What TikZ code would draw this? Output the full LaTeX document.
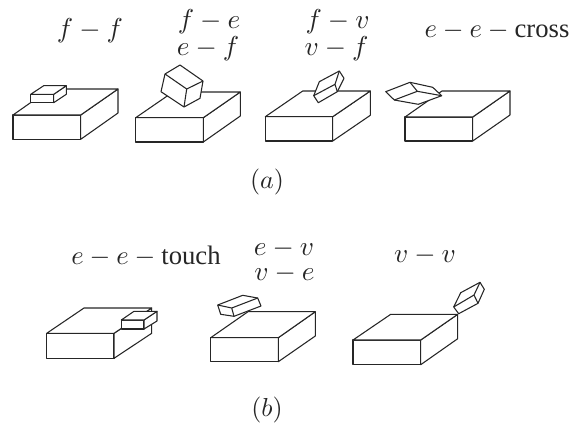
\documentclass[tikz,border=0pt]{standalone}
\usepackage{fontspec}
\newfontfamily\tmsfont{Liberation Serif}
\tikzset{
  edge/.style={draw=black!85,line width=0.8pt,line join=round,fill=white},
  seam/.style={draw=black!85,line width=0.8pt,line join=round},
  lab/.style={inner sep=0pt,anchor=base,scale=2.05,text=black!85},
  wordlab/.style={inner sep=0pt,anchor=base,scale=2.0,text=black!85},
  capt/.style={inner sep=0pt,anchor=base,scale=1.95,text=black!85}
}
% base slab: front-left x, top y, front-right x, bottom y, back-right x, back-top y, back-low y, back-left x
\newcommand{\slab}[8]{
  \draw[edge] (#1,#2) rectangle (#3,#4);
  \draw[edge] (#3,#2) -- (#5,#6) -- (#5,#7) -- (#3,#4) -- cycle;
  \draw[edge] (#1,#2) -- (#8,#6) -- (#5,#6) -- (#3,#2) -- cycle;
}
\begin{document}
\begin{tikzpicture}[x=0.75pt,y=-0.75pt]
\useasboundingbox (0,0) rectangle (584,426);
% labels
\node[lab] (l1) at (90,37) {$f-f$};
\node[lab] (l2) at (209,28) {$f-e$};
\node[lab] (l3) at (208,55) {$e-f$};
\node[lab] (l4) at (337.5,28) {$f-v$};
\node[lab] (l5) at (336.5,55) {$v-f$};
\node[wordlab] (l6) at (497,37) {$e-e-{}$\tmsfont cross};
\node[capt] (l7) at (267,188) {$(a)$};
\node[wordlab] (l8) at (146,264) {$e-e-{}$\tmsfont touch};
\node[lab] (l9) at (284,255) {$e-v$};
\node[lab] (l10) at (284.5,280) {$v-e$};
\node[lab] (l11) at (425,262) {$v-v$};
\node[capt] (l12) at (267,416) {$(b)$};
% f-f
\slab{13}{115}{80.7}{139.3}{118}{89}{113}{50}
\draw[edge] (30.7,94.3) rectangle (53.7,102.7);
\draw[edge] (53.7,94.3) -- (66.3,85.7) -- (66.3,94.3) -- (53.7,102.7) -- cycle;
\draw[edge] (30.7,94.3) -- (43.7,85.7) -- (66.3,85.7) -- (53.7,94.3) -- cycle;
% f-e
\slab{135.7}{117.7}{203.3}{142}{240.3}{92}{116}{173}
\draw[edge] (180,65) -- (203,81) -- (200,98.3) -- (184,107) -- (161,91.7) -- (165,74) -- cycle;
\draw[seam] (165,74) -- (186.7,89) -- (203,81) (186.7,89) -- (184,107);
% f-v
\slab{265.3}{116.7}{332.7}{141}{370.3}{91}{115.3}{302.7}
\draw[edge] (339.3,71) -- (344,78.3) -- (337.3,91.7) -- (318.3,102.7) -- (313.7,95.7) -- (319.3,81.7) -- cycle;
\draw[seam] (339.3,71) -- (335,84.3) -- (337.3,91.7) (335,84.3) -- (313.7,95.7);
% e-e cross
\slab{405}{117}{472.7}{141}{510}{91}{115}{442}
\draw[edge] (385.7,91.7) -- (410,82.3) -- (432.7,87.3) -- (441.7,95.7) -- (418.3,104.3) -- (394.3,100) -- cycle;
\draw[seam] (410,82.3) -- (417.3,91.3) -- (441.7,95.7) (417.3,91.3) -- (394.3,100);
% e-e touch
\slab{46.7}{333.3}{114}{358.3}{151.7}{308}{333.3}{84}
\draw[edge] (121.3,320) rectangle (144,329);
\draw[edge] (144,320) -- (157,311.3) -- (157,321) -- (144,329) -- cycle;
\draw[edge] (121.3,320) -- (134,311.3) -- (157,311.3) -- (144,320) -- cycle;
% e-v
\slab{210.7}{337.7}{278.3}{361.7}{315.3}{311.7}{336}{248}
\draw[edge] (217.7,305) -- (242.7,295.3) -- (257.7,298) -- (261,306) -- (234,316.3) -- (220.7,314.3) -- cycle;
\draw[seam] (217.7,305) -- (231.7,308) -- (234,316.3) (231.7,308) -- (257.7,298);
% v-v
\slab{353}{340}{420.7}{364.7}{457.7}{314.3}{338.7}{390.7}
\draw[edge] (480,282.3) -- (484.3,289.3) -- (478,303.3) -- (458.7,313.7) -- (453.7,307) -- (460.7,292.7) -- cycle;
\draw[seam] (480,282.3) -- (474,295) -- (478,303.3) (474,295) -- (453.7,307);
\end{tikzpicture}
\end{document}
